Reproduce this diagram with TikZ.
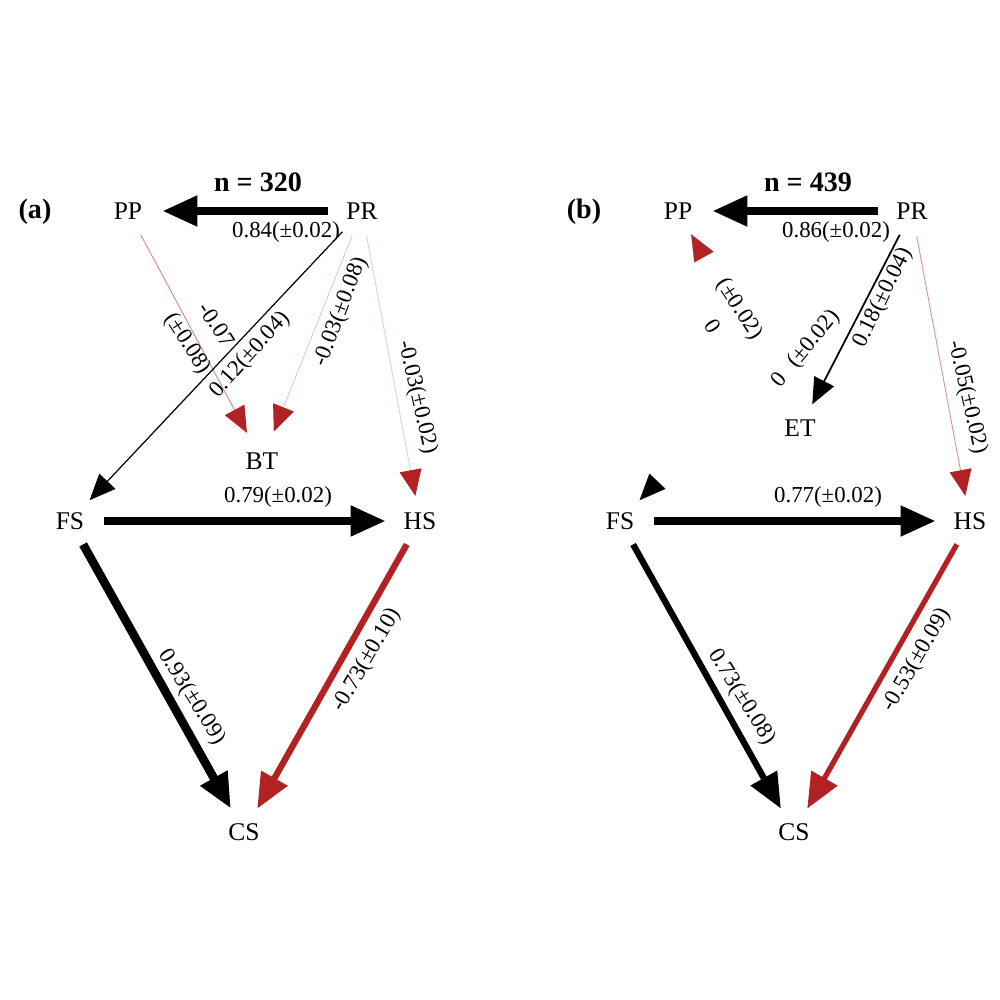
\documentclass[tikz,border=0pt]{standalone}
\usepackage{fontspec}
\setmainfont{Liberation Serif}
\usetikzlibrary{arrows.meta,shapes.geometric}
\definecolor{negred}{RGB}{178,34,34}

\begin{document}
\begin{tikzpicture}[x=0.2mm, y=-0.2mm,
    font=\fontsize{13}{19}\selectfont,
    var/.style={ellipse, minimum width=13.6mm, minimum height=10mm, inner sep=0pt,
      font=\fontsize{14.5}{17}\selectfont},
    coef/.style={align=center, inner sep=1pt},
    title/.style={font=\fontsize{16}{19}\selectfont\bfseries},
    bigtip/.style={-{Triangle[length=7mm, width=5.8mm]}},
    smalltip/.style={-{Triangle[length=5.2mm, width=4.4mm]}},
    weaktip/.style={-{Triangle[length=5.2mm, width=4.4mm, color=negred]}},
  ]
  \useasboundingbox (0,0) rectangle (1000,1000);
  % Panel (a)
  \node[title] (taga) at (35,212) {(a)};
  \node[title] (na) at (258,182) {n = 320};
  \node[var] (ppa) at (128,211) {PP};
  \node[var] (pra) at (362,211) {PR};
  \node[var, minimum height=12.4mm] (bta) at (262,461) {BT};
  \node[var] (fsa) at (70,521) {FS};
  \node[var] (hsa) at (420,521) {HS};
  \node[var] (csa) at (244,832) {CS};
  \draw[bigtip, line width=4.5pt] (pra) -- (ppa);
  \draw[weaktip, negred!55, line width=0.5pt] (ppa) -- (bta);
  \draw[smalltip, line width=0.7pt] (pra) -- (fsa);
  \draw[weaktip, negred!25, line width=0.5pt] (pra) -- (bta);
  \draw[weaktip, negred!25, line width=0.5pt] (pra) -- (hsa);
  \draw[bigtip, line width=4.4pt] (fsa) -- (hsa);
  \draw[bigtip, line width=4.9pt] (fsa) -- (csa);
  \draw[bigtip, negred, line width=3.6pt] (hsa) -- (csa);
  \node[coef] at (286,232) {0.84(±0.02)};
  \node[coef, rotate=-57] at (201,335) {-0.07\\(±0.08)};
  \node[coef, rotate=48] at (250,355) {0.12(±0.04)};
  \node[coef, rotate=69] at (341,312) {-0.03(±0.08)};
  \node[coef, rotate=-77] at (417,397) {-0.03(±0.02)};
  \node[coef] at (278,497) {0.79(±0.02)};
  \node[coef, rotate=-58] at (192,697) {0.93(±0.09)};
  \node[coef, rotate=60] at (367,660) {-0.73(±0.10)};
  % Panel (b)
  \node[title] (tagb) at (584,212) {(b)};
  \node[title] (nb) at (808,182) {n = 439};
  \node[var] (ppb) at (678,211) {PP};
  \node[var] (prb) at (912,211) {PR};
  \node[var] (etb) at (800,428) {ET};
  \node[var] (fsb) at (620,521) {FS};
  \node[var] (hsb) at (970,521) {HS};
  \node[var] (csb) at (794,832) {CS};
  \draw[weaktip, white, line width=0.1pt] (etb) -- (ppb);
  \draw[white, line width=0.1pt, -{Triangle[length=5.2mm, width=4.4mm, color=black]}] (prb) -- (fsb);
  \draw[bigtip, line width=4.5pt] (prb) -- (ppb);
  \draw[smalltip, line width=1pt] (prb) -- (etb);
  \draw[weaktip, negred!50, line width=0.5pt] (prb) -- (hsb);
  \draw[bigtip, line width=4.3pt] (fsb) -- (hsb);
  \draw[bigtip, line width=3.6pt] (fsb) -- (csb);
  \draw[bigtip, negred, line width=3pt] (hsb) -- (csb);
  \node[coef] at (836,232) {0.86(±0.02)};
  \node[coef, rotate=-57] at (727,317) {(±0.02)\\0};
  \node[coef, rotate=50] at (806,349) {0\hspace{0.6em}(±0.02)};
  \node[coef, rotate=64] at (883,298) {0.18(±0.04)};
  \node[coef, rotate=-77] at (967,397) {-0.05(±0.02)};
  \node[coef] at (828,497) {0.77(±0.02)};
  \node[coef, rotate=-58] at (742,697) {0.73(±0.08)};
  \node[coef, rotate=60] at (917,660) {-0.53(±0.09)};
\end{tikzpicture}
\end{document}
